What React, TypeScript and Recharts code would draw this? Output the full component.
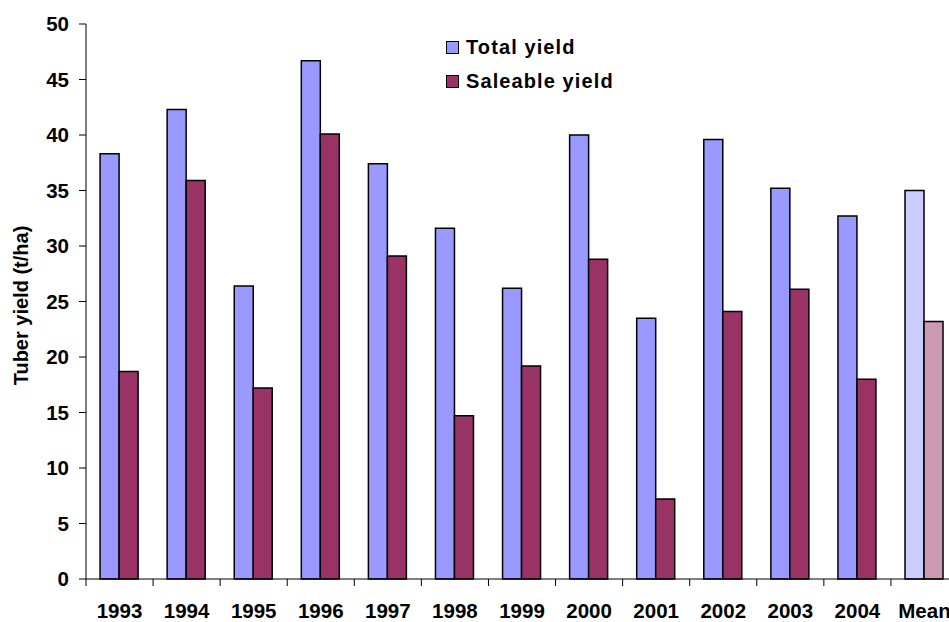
import React from "react";
import { Bar, BarChart, Cell, Legend, XAxis, YAxis } from "recharts";

const years = [
  "1993", "1994", "1995", "1996", "1997", "1998", "1999",
  "2000", "2001", "2002", "2003", "2004", "Mean",
];
const totalYield = [38.3, 42.3, 26.4, 46.7, 37.4, 31.6, 26.2, 40.0, 23.5, 39.6, 35.2, 32.7, 35.0];
const saleableYield = [18.7, 35.9, 17.2, 40.1, 29.1, 14.7, 19.2, 28.8, 7.2, 24.1, 26.1, 18.0, 23.2];
const yTicks = [0, 5, 10, 15, 20, 25, 30, 35, 40, 45, 50];

const TOTAL_COLOR = "#9999ff";
const SALEABLE_COLOR = "#993366";
const TOTAL_MEAN_COLOR = "#ccccff";
const SALEABLE_MEAN_COLOR = "#cc99b2";

const FONT = '"Liberation Sans", Arial, sans-serif';

const CHART_W = 960;
const CHART_H = 622;
const Y_AXIS_W = 86;
const MARGIN_RIGHT = 2;
const BAND = (CHART_W - Y_AXIS_W - MARGIN_RIGHT) / years.length;
const X_TICK_SIZE = 7;
const X_TICK_MARGIN = 17;

const data = years.map((year, i) => ({
  year,
  total: totalYield[i],
  saleable: saleableYield[i],
}));

function YearTick({ x, y, payload }: { x?: number; y?: number; payload?: { value: string } }) {
  if (x == null || y == null || !payload) return null;
  const axisY = y - X_TICK_SIZE - X_TICK_MARGIN;
  const left = x - BAND / 2;
  return (
    <g>
      <line x1={left} y1={axisY} x2={left} y2={axisY + X_TICK_SIZE} stroke="#000" />
      <text
        x={x}
        y={y}
        dy="0.71em"
        textAnchor="middle"
        fontFamily={FONT}
        fontWeight="bold"
        fontSize={20.5}
        fill="#000"
      >
        {payload.value}
      </text>
    </g>
  );
}

function YieldLegend() {
  const rows = [
    { name: "Total yield", color: TOTAL_COLOR },
    { name: "Saleable yield", color: SALEABLE_COLOR },
  ];
  return (
    <div>
      {rows.map((row) => (
        <div key={row.name} style={{ display: "flex", alignItems: "center", height: 34 }}>
          <span
            style={{
              display: "inline-block",
              width: 11,
              height: 11,
              background: row.color,
              border: "1px solid #000",
              marginRight: 7,
            }}
          />
          <span
            style={{
              fontFamily: FONT,
              fontWeight: "bold",
              fontSize: 20,
              letterSpacing: 1.1,
              color: "#000",
            }}
          >
            {row.name}
          </span>
        </div>
      ))}
    </div>
  );
}

function YTitle({ viewBox }: { viewBox?: { x: number; y: number; width: number; height: number } }) {
  if (!viewBox) return null;
  const cx = 28;
  const cy = viewBox.y + viewBox.height / 2 + 4;
  return (
    <text
      x={cx}
      y={cy}
      transform={`rotate(-90, ${cx}, ${cy})`}
      textAnchor="middle"
      fontFamily={FONT}
      fontWeight="bold"
      fontSize={20}
      fill="#000"
    >
      Tuber yield (t/ha)
    </text>
  );
}

export default function App() {
  return (
    <div
      style={{
        position: "fixed",
        top: 0,
        left: 0,
        width: 949,
        height: 622,
        overflow: "hidden",
        background: "#fff",
      }}
    >
      <BarChart
        width={CHART_W}
        height={CHART_H}
        data={data}
        margin={{ top: 24, right: MARGIN_RIGHT, bottom: 0, left: 0 }}
        barCategoryGap="21%"
        barGap={0}
      >
        <XAxis
          dataKey="year"
          height={43}
          axisLine={{ stroke: "#000" }}
          tickLine={false}
          tickSize={X_TICK_SIZE}
          tickMargin={X_TICK_MARGIN}
          interval={0}
          tick={<YearTick />}
        />
        <YAxis
          width={Y_AXIS_W}
          domain={[0, 50]}
          ticks={yTicks}
          interval={0}
          axisLine={{ stroke: "#000" }}
          tickLine={{ stroke: "#000" }}
          tickSize={7}
          tickMargin={10}
          tick={{ fontFamily: FONT, fontWeight: "bold", fontSize: 20.5, fill: "#000" }}
          label={<YTitle />}
        />
        <Legend
          layout="horizontal"
          align="center"
          verticalAlign="middle"
          content={<YieldLegend />}
          wrapperStyle={{ position: "absolute", top: 30, left: 446, width: 220 }}
        />
        <Bar dataKey="total" name="Total yield" fill={TOTAL_COLOR} stroke="#000" strokeWidth={1.5} isAnimationActive={false}>
          {data.map((d) => (
            <Cell key={d.year} fill={d.year === "Mean" ? TOTAL_MEAN_COLOR : TOTAL_COLOR} />
          ))}
        </Bar>
        <Bar dataKey="saleable" name="Saleable yield" fill={SALEABLE_COLOR} stroke="#000" strokeWidth={1.5} isAnimationActive={false}>
          {data.map((d) => (
            <Cell key={d.year} fill={d.year === "Mean" ? SALEABLE_MEAN_COLOR : SALEABLE_COLOR} />
          ))}
        </Bar>
      </BarChart>
    </div>
  );
}
